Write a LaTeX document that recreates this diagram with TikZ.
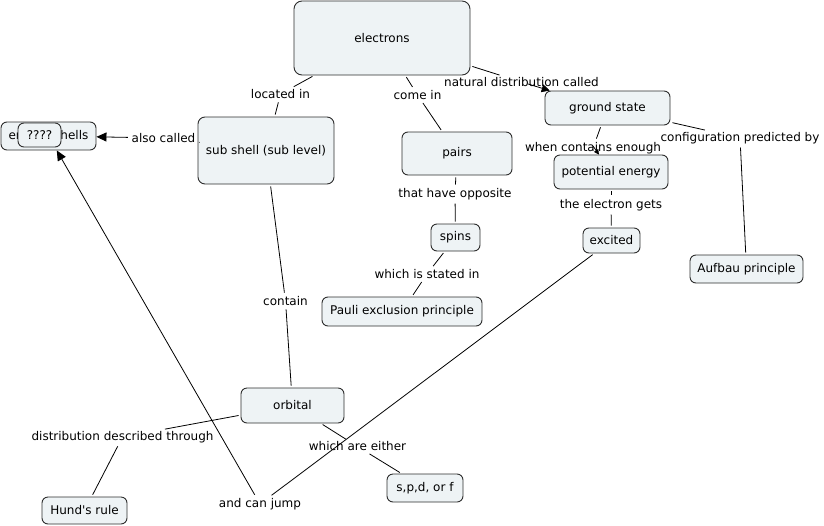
\documentclass[tikz,border=0pt]{standalone}
\usepackage{fontspec}
\setmainfont{DejaVu Sans}
\usetikzlibrary{arrows.meta}
\definecolor{cfill}{RGB}{238,243,245}
\definecolor{cborder}{RGB}{45,45,45}
\begin{document}
\begin{tikzpicture}[x=1pt,y=-1pt,
  concept/.style={draw=cborder,line width=0.9pt,fill=cfill,rounded corners=6pt,inner sep=0pt,align=center,font=\fontsize{12}{14}\selectfont},
  lab/.style={inner sep=1.5pt,font=\fontsize{12}{14}\selectfont},
  link/.style={draw=black,line width=0.8pt,shorten <=2pt,shorten >=2pt},
  arr/.style={draw=black,line width=0.8pt,shorten <=2pt,-{Triangle[length=10pt,width=9pt]}},
  arrm/.style={draw=black,line width=0.8pt,-{Triangle[length=8pt,width=8pt]}},
  arrs/.style={draw=black,line width=0.8pt,-{Triangle[length=5pt,width=5pt]}}]
\useasboundingbox (0,0) rectangle (824,525);
% concepts
\node[concept,minimum width=176pt,minimum height=74pt,rounded corners=8pt] (el) at (382,38) {electrons};
\node[concept,minimum width=95pt,minimum height=28pt] (es) at (48.5,136) {energy shells};
\node[concept,minimum width=43pt,minimum height=24pt] (q) at (39.5,135) {????};
\node[concept,minimum width=136pt,minimum height=67pt,rounded corners=7pt] (ss) at (266,150.5) {sub shell (sub level)};
\node[concept,minimum width=110pt,minimum height=43pt] (pr) at (457,153.5) {pairs};
\node[concept,minimum width=125pt,minimum height=34pt] (gs) at (607.5,108) {ground state};
\node[concept,minimum width=114pt,minimum height=34pt] (pe) at (611,172) {potential energy};
\node[concept,minimum width=49pt,minimum height=27pt] (sp) at (455.5,237.5) {spins};
\node[concept,minimum width=57pt,minimum height=25pt] (ex) at (611.5,240.5) {excited};
\node[concept,minimum width=113pt,minimum height=28pt] (au) at (746.5,269) {Aufbau principle};
\node[concept,minimum width=160pt,minimum height=29pt] (pa) at (402,311.5) {Pauli exclusion principle};
\node[concept,minimum width=103pt,minimum height=35pt] (or) at (292.5,405.5) {orbital};
\node[concept,minimum width=76pt,minimum height=28pt] (spdf) at (425,488) {s,p,d, or f};
\node[concept,minimum width=85pt,minimum height=27pt] (hr) at (84.5,510.5) {Hund\textquotesingle s rule};
% labels
\node[lab] (li) at (280.5,94) {located in};
\node[lab] (ci) at (417.5,95) {come in};
\node[lab] (nd) at (521.5,82) {natural distribution called};
\node[lab] (ac) at (163.5,138) {also called};
\node[lab] (wc) at (593,148) {when contains enough};
\node[lab] (cp) at (740,138) {configuration predicted by};
\node[lab] (ho) at (455,194) {that have opposite};
\node[lab] (eg) at (611,205) {the electron gets};
\node[lab] (ws) at (427,274) {which is stated in};
\node[lab] (co) at (285.5,301) {contain};
\node[lab] (dd) at (122.5,437) {distribution described through};
\node[lab] (we) at (357.5,446.5) {which are either};
\node[lab] (cj) at (260,504) {and can jump};
\coordinate (ndA) at (528,84);
\coordinate (wcA) at (593,146);
% links
\draw[link] (el) -- (li);
\draw[link] (li) -- (ss);
\draw[link] (el) -- (ci);
\draw[link] (ci) -- (pr);
\draw[link] (el) -- (nd);
\draw[arrm] (ndA) -- (gs);
\draw[link] (ss) -- (ac);
\draw[arr] (ac) -- (es);
\draw[link] (gs) -- (wc);
\draw[arrs] (wcA) -- (pe);
\draw[link] (gs) -- (cp);
\draw[link] (cp) -- (au);
\draw[link] (pr) -- (ho);
\draw[link] (ho) -- (sp);
\draw[link] (pe) -- (eg);
\draw[link] (eg) -- (ex);
\draw[link] (sp) -- (ws);
\draw[link] (ws) -- (pa);
\draw[link] (ss) -- (co);
\draw[link] (co) -- (or);
\draw[link] (or) -- (dd);
\draw[link] (dd) -- (hr);
\draw[link] (or) -- (we);
\draw[link] (we) -- (spdf);
\draw[link] (ex) -- (cj);
\draw[arr] (cj) -- (es);
\end{tikzpicture}
\end{document}
